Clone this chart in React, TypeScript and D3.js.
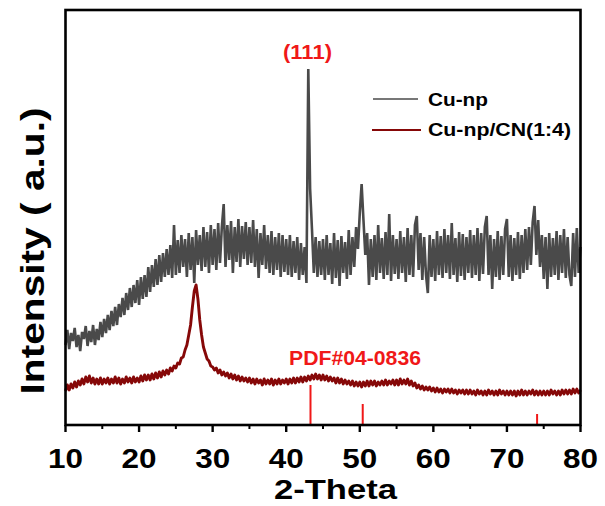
import React from 'react';
import * as d3 from 'd3';

// 2-theta grid of the scan (degrees)
const twoThetaStart = 10;
const twoThetaStep = 0.25;

// Cu-np intensity (a.u.), one row per 5 degrees, starting at 10, 15, ... 75, then 80
const cuNpRows: number[][] = [
  [80, 95, 76, 92, 84, 97, 78, 90, 74, 93, 86, 99, 79, 94, 83, 100, 80, 96, 85, 103],
  [88, 106, 92, 110, 95, 114, 99, 118, 100, 121, 108, 127, 110, 132, 115, 137, 118, 140, 122, 145],
  [120, 148, 126, 150, 128, 158, 133, 160, 138, 166, 140, 170, 143, 172, 148, 176, 150, 180, 147, 200],
  [150, 185, 152, 190, 158, 186, 148, 192, 155, 188, 142, 195, 160, 190, 154, 198, 158, 193, 152, 200],
  [160, 196, 155, 202, 162, 198, 221, 158, 200, 165, 204, 152, 198, 163, 206, 158, 199, 166, 203, 160],
  [198, 162, 205, 158, 196, 147, 192, 160, 200, 156, 190, 152, 194, 150, 188, 155, 192, 148, 190, 153],
  [186, 150, 190, 148, 184, 152, 188, 145, 182, 150, 178, 142, 356, 236, 196, 152, 188, 148, 184, 150],
  [186, 145, 190, 150, 182, 141, 192, 147, 185, 139, 189, 152, 183, 146, 195, 150, 188, 158, 198, 176],
  [212, 241, 205, 170, 192, 140, 186, 148, 190, 145, 200, 152, 187, 146, 193, 150, 211, 144, 190, 151],
  [186, 146, 194, 152, 188, 143, 197, 150, 190, 148, 200, 209, 155, 192, 145, 188, 150, 132, 190, 148],
  [186, 144, 194, 150, 189, 147, 196, 152, 190, 146, 202, 150, 187, 143, 193, 149, 191, 145, 188, 152],
  [195, 147, 190, 150, 197, 144, 192, 151, 198, 209, 150, 190, 136, 186, 148, 194, 145, 189, 150, 196],
  [206, 148, 190, 144, 187, 150, 193, 146, 190, 152, 196, 155, 198, 160, 203, 219, 170, 205, 158, 190],
  [146, 188, 136, 192, 148, 187, 150, 194, 145, 190, 152, 196, 147, 188, 150, 139, 192, 148, 197, 152],
  [178],
];

// Cu-np/CN(1:4) intensity (a.u.), same grid
const cuNpCnRows: number[][] = [
  [34, 40, 35, 41, 37, 43, 38, 44, 40, 46, 41, 48, 43, 49, 42, 47, 41, 46, 41, 47],
  [41, 46, 42, 47, 41, 46, 42, 48, 42, 47, 41, 46, 42, 48, 43, 47, 42, 48, 43, 47],
  [43, 49, 44, 50, 45, 50, 45, 51, 46, 52, 47, 53, 48, 54, 50, 55, 51, 57, 54, 59],
  [57, 62, 61, 67, 68, 75, 80, 90, 100, 118, 134, 140, 126, 105, 90, 78, 72, 66, 64, 59],
  [58, 55, 57, 52, 55, 50, 53, 49, 52, 47, 51, 46, 50, 45, 49, 44, 48, 44, 47, 43],
  [47, 42, 46, 41, 46, 42, 45, 40, 46, 41, 45, 41, 46, 40, 45, 41, 46, 41, 45, 42],
  [46, 41, 46, 42, 47, 42, 47, 43, 48, 43, 48, 44, 49, 45, 50, 46, 51, 46, 50, 45],
  [50, 45, 49, 44, 48, 44, 47, 42, 47, 42, 46, 41, 45, 41, 44, 40, 44, 39, 43, 39],
  [43, 38, 43, 39, 44, 39, 44, 40, 44, 39, 43, 40, 44, 40, 45, 40, 44, 41, 45, 40],
  [45, 40, 46, 41, 45, 41, 46, 40, 44, 39, 42, 37, 40, 36, 39, 35, 38, 35, 38, 34],
  [37, 33, 37, 33, 36, 32, 36, 33, 36, 32, 36, 32, 35, 31, 35, 32, 35, 31, 35, 31],
  [35, 31, 34, 30, 35, 31, 34, 30, 34, 30, 35, 31, 34, 30, 34, 30, 35, 31, 34, 30],
  [34, 30, 34, 30, 34, 29, 34, 30, 35, 30, 34, 30, 34, 31, 35, 30, 34, 30, 34, 30],
  [34, 30, 34, 30, 35, 31, 34, 30, 34, 30, 35, 31, 35, 31, 35, 31, 36, 32, 36, 32],
  [35],
];

// PDF#04-0836 reference sticks
const pdfPositions = [43.3, 50.4, 74.1];
const pdfIntensity = [40, 21, 11];

const xMajorTicks = [10, 20, 30, 40, 50, 60, 70, 80];
const xMinorTicks = [15, 25, 35, 45, 55, 65, 75];
const seriesNames = ['Cu-np', 'Cu-np/CN(1:4)'];
const seriesColors = ['#4a4a4a', '#860808'];

const W = 605;
const H = 506;
const left = 65.5;
const right = 580.5;
const top = 10;
const bottom = 425;
const FONT = "'Liberation Sans', Arial, Helvetica, sans-serif";
const RED = '#f01818';

function toPoints(rows: number[][]): [number, number][] {
  const pts: [number, number][] = [];
  rows.forEach((row, r) => {
    row.forEach((v, j) => {
      pts.push([twoThetaStart + r * 5 + j * twoThetaStep, v]);
    });
  });
  return pts;
}

export default function App() {
  const x = d3.scaleLinear().domain([10, 80]).range([left, right]);
  const y = d3.scaleLinear().domain([0, 415]).range([bottom, top]);
  const line = d3
    .line<[number, number]>()
    .x((d) => x(d[0]))
    .y((d) => y(d[1]));

  const grayPath = line(toPoints(cuNpRows)) || '';
  const redPath = line(toPoints(cuNpCnRows)) || '';

  return (
    <svg
      width={W}
      height={H}
      style={{ position: 'absolute', left: 0, top: 0, background: '#fff' }}
      fontFamily={FONT}
    >
      <rect x={0} y={0} width={W} height={H} fill="#fff" />
      <path d={grayPath} fill="none" stroke={seriesColors[0]} strokeWidth={2.6} strokeLinejoin="miter" strokeMiterlimit={3} />
      <path d={redPath} fill="none" stroke={seriesColors[1]} strokeWidth={2.9} strokeLinejoin="round" />

      {pdfPositions.map((p, i) => (
        <line key={p} x1={x(p)} x2={x(p)} y1={y(0)} y2={y(pdfIntensity[i])} stroke={RED} strokeWidth={2} />
      ))}

      {/* frame */}
      <rect x={left} y={top} width={right - left} height={bottom - top} fill="none" stroke="#000" strokeWidth={2.6} />

      {xMajorTicks.map((t) => (
        <g key={t}>
          <line x1={x(t)} x2={x(t)} y1={bottom} y2={bottom + 7} stroke="#000" strokeWidth={2.4} />
          <text x={x(t)} y={468} textAnchor="middle" fontSize={28} fontWeight="bold" fill="#000" textLength={35} lengthAdjust="spacingAndGlyphs">
            {t}
          </text>
        </g>
      ))}
      {xMinorTicks.map((t) => (
        <line key={t} x1={x(t)} x2={x(t)} y1={bottom} y2={bottom + 4} stroke="#000" strokeWidth={2} />
      ))}

      <text x={335.5} y={499} textAnchor="middle" fontSize={27} fontWeight="bold" fill="#000" textLength={123} lengthAdjust="spacingAndGlyphs">
        2-Theta
      </text>
      <text
        transform="translate(44,251) rotate(-90)"
        textAnchor="middle"
        fontSize={33}
        fontWeight="bold"
        fill="#000"
        textLength={287}
        lengthAdjust="spacingAndGlyphs"
      >
        Intensity ( a.u.)
      </text>

      <text x={307.5} y={59} textAnchor="middle" fontSize={20} fontWeight="bold" fill={RED} textLength={49} lengthAdjust="spacingAndGlyphs">
        (111)
      </text>
      <text x={355} y={365} textAnchor="middle" fontSize={20} fontWeight="bold" fill={RED} textLength={132} lengthAdjust="spacingAndGlyphs">
        PDF#04-0836
      </text>

      {/* legend */}
      <line x1={373} x2={418} y1={99} y2={99} stroke={seriesColors[0]} strokeWidth={1.6} />
      <text x={428} y={106} fontSize={19} fontWeight="bold" fill="#000" textLength={60} lengthAdjust="spacingAndGlyphs">
        {seriesNames[0]}
      </text>
      <line x1={372} x2={421} y1={130} y2={130} stroke={seriesColors[1]} strokeWidth={1.8} />
      <text x={428} y={136} fontSize={19} fontWeight="bold" fill="#000" textLength={143} lengthAdjust="spacingAndGlyphs">
        {seriesNames[1]}
      </text>
    </svg>
  );
}
